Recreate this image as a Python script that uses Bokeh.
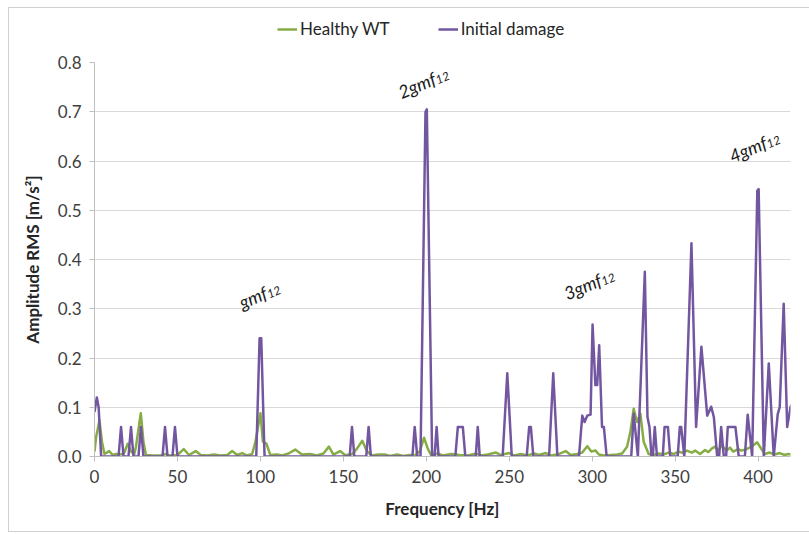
import math
from bokeh.plotting import figure
from bokeh.layouts import column
from bokeh.models import Range1d, FixedTicker, Legend, LegendItem, NumeralTickFormatter, ColumnDataSource
from bokeh.core.properties import value
from bokeh.embed import file_html
from bokeh.resources import INLINE

# ---- data ----
damage_freq = [0, 1.4, 2.5, 4, 14.5, 16, 17.5, 20.5, 22, 23.5, 26.5, 28, 29.5, 41, 42.5, 44, 47, 48.5, 50,
               97.5, 99.5, 100.5, 102.5, 153.8, 155.2, 156.6, 163.8, 165.2, 166.6, 191.6, 193, 194.5,
               196.5, 199.5, 200.3, 203.5, 205, 206.2, 207.4, 217.5, 219, 222, 223.5, 229.8, 231, 232.2,
               246, 248.8, 251.5, 260.5, 262, 263, 264.5, 274, 276.5, 279, 292, 294, 295.4, 297, 299,
               300.2, 301.9, 303, 304.2, 305.9, 307, 308.7, 323.5, 325, 327.5, 331.7, 333.3, 334.5, 335.7,
               336.5, 337.7, 339, 342.5, 343.6, 345.6, 347, 351.5, 352.8, 353.6, 355.5, 359.8, 362.6,
               365.8, 369.3, 371.7, 373.3, 375.3, 376.5, 377.7, 379.3, 380.7, 381.7, 386.3, 388.3, 392,
               393.7, 396.4, 399.5, 400.3, 403.4, 406.4, 409.4, 411.8, 413, 415.4, 417.5, 419.5, 420]
damage_amp = [0.09, 0.12, 0.10, 0, 0, 0.06, 0, 0, 0.06, 0, 0, 0.06, 0, 0, 0.06, 0, 0, 0.06, 0,
              0, 0.24, 0.24, 0, 0, 0.06, 0, 0, 0.06, 0, 0, 0.06, 0,
              0, 0.70, 0.705, 0, 0, 0.06, 0, 0, 0.06, 0.06, 0, 0, 0.06, 0,
              0, 0.169, 0, 0, 0.06, 0.06, 0, 0, 0.169, 0, 0, 0.083, 0.07, 0.083, 0.085,
              0.268, 0.145, 0.145, 0.226, 0.06, 0.06, 0, 0, 0.087, 0, 0.375, 0.08, 0.06, 0,
              0, 0.06, 0, 0, 0.06, 0.06, 0, 0, 0.06, 0.06, 0, 0.433, 0.06,
              0.223, 0.083, 0.101, 0.08, 0, 0, 0.06, 0, 0, 0.06, 0.06, 0, 0,
              0.085, 0, 0.54, 0.543, 0, 0.189, 0, 0.086, 0.1, 0.31, 0.06, 0.1, 0.105]

healthy_freq = [0, 1, 3, 4.5, 6, 8.8, 11, 13, 16, 18, 20, 22, 24, 25, 27.9, 29.5, 31, 35, 40, 43, 45, 50,
                53.8, 57, 61, 64, 68, 72, 76, 80, 83, 86, 89, 92, 95, 97, 100, 101.5, 103.6, 106, 110,
                113, 117, 121, 125, 130, 134, 138, 141.3, 144, 148, 151, 155, 158, 161.4, 164, 167, 171,
                175, 178, 182.5, 186, 190, 193, 196, 198.6, 201, 203, 207, 210, 215, 220, 225, 230, 233,
                237, 242, 245, 250, 253, 257, 261, 265, 268, 272, 275, 279, 284, 287, 291, 294, 297,
                299.5, 302, 304, 307, 311, 315, 318, 321, 323, 325, 327, 329, 331, 334, 337, 340, 343,
                346, 349, 352, 355, 357, 360, 362, 365, 368, 370, 372, 374, 376, 378, 381, 383, 385,
                388, 390, 393, 396, 399.4, 402, 404, 407, 410, 413, 416, 418, 420]
healthy_amp = [0.01, 0.04, 0.073, 0.03, 0.005, 0.011, 0.003, 0.005, 0.004, 0.008, 0.026, 0.01, 0.005, 0.02,
               0.088, 0.03, 0.003, 0.002, 0.002, 0.005, 0.002, 0.003,
               0.015, 0.003, 0.011, 0.003, 0.002, 0.004, 0.002, 0.003, 0.011, 0.003, 0.007, 0.002, 0.005,
               0.03, 0.088, 0.03, 0.026, 0.003, 0.004,
               0.002, 0.006, 0.014, 0.004, 0.005, 0.002, 0.006, 0.02, 0.004, 0.011, 0.003, 0.004, 0.015,
               0.032, 0.012, 0.002, 0.004,
               0.004, 0.001, 0.004, 0.001, 0.003, 0.002, 0.01, 0.038, 0.015, 0.002, 0.006, 0.002, 0.005,
               0.003, 0.002, 0.006, 0.002,
               0.004, 0.008, 0.003, 0.007, 0.002, 0.005, 0.002, 0.006, 0.003, 0.007, 0.002, 0.004, 0.011,
               0.003, 0.005, 0.008, 0.021,
               0.01, 0.012, 0.004, 0.002, 0.003, 0.004, 0.006, 0.02, 0.05, 0.097, 0.07, 0.087, 0.03,
               0.005, 0.003, 0.006, 0.004,
               0.008, 0.005, 0.01, 0.007, 0.012, 0.008, 0.012, 0.005, 0.013, 0.009, 0.016, 0.02, 0.012,
               0.022, 0.012, 0.018, 0.01,
               0.015, 0.012, 0.015, 0.02, 0.029, 0.015, 0.005, 0.008, 0.004, 0.007, 0.003, 0.005, 0.004]

x_ticks = [0, 50, 100, 150, 200, 250, 300, 350, 400]
y_ticks = [0.0, 0.1, 0.2, 0.3, 0.4, 0.5, 0.6, 0.7, 0.8]
series_names = ["Healthy WT", "Initial damage"]

# harmonic labels: main text, subscript, centre of the whole label (data coords), width of main part (px)
ann_main = ["gmf", "2gmf", "3gmf", "4gmf"]
ann_sub = ["12", "12", "12", "12"]
ann_x = [99.6, 198.5, 298.4, 398.0]
ann_y = [0.329, 0.760, 0.351, 0.630]
ann_main_w = [27, 37, 37, 37]

GREEN = "#86AD45"
PURPLE = "#7356A0"
FONT = "Lato"

X_MAX = 419.5
W = 800
LEG_H = 37
H = 486
BL, BR, BT, BB = 85, 19, 17, 75
FW, FH = W - BL - BR, H - BT - BB
px_x = X_MAX / FW          # data units per pixel (x)
px_y = 0.8 / FH            # data units per pixel (y)
ANG = 0.40

# ---------- legend strip ----------
pl = figure(width=W, height=LEG_H, output_backend="svg", toolbar_location=None,
            x_range=Range1d(0, 1), y_range=Range1d(0, 1),
            min_border_left=BL, min_border_right=BR, min_border_top=0, min_border_bottom=0)
pl.xaxis.visible = False
pl.yaxis.visible = False
pl.grid.grid_line_color = None
pl.outline_line_color = None
pl.border_fill_color = "white"
# swatch renderers: drawn outside the (0..1) view, only used for the legend glyphs
lh = pl.line([5, 6], [5, 6], line_color=GREEN, line_width=2.5)
ld = pl.line([5, 6], [5, 6], line_color=PURPLE, line_width=2.5)
legend = Legend(items=[LegendItem(label=series_names[0], renderers=[lh]),
                       LegendItem(label=series_names[1], renderers=[ld])],
                orientation="horizontal", location=(183, 6))
legend.label_text_font = FONT
legend.label_text_font_size = "17px"
legend.label_text_color = "#262626"
legend.border_line_color = None
legend.background_fill_alpha = 0
legend.glyph_width = 20
legend.glyph_height = 20
legend.spacing = 48
legend.padding = 0
legend.margin = 0
legend.label_standoff = 3
pl.add_layout(legend, "center")

# ---------- main chart ----------
p = figure(width=W, height=H, output_backend="svg", toolbar_location=None,
           x_range=Range1d(0, X_MAX), y_range=Range1d(0, 0.8),
           min_border_left=BL, min_border_right=BR, min_border_top=BT, min_border_bottom=BB)
p.outline_line_color = None
p.background_fill_color = "white"
p.border_fill_color = "white"

p.xgrid.grid_line_color = None
p.ygrid.grid_line_color = "#D9D9D9"
p.ygrid.grid_line_width = 1

p.xaxis.ticker = FixedTicker(ticks=x_ticks)
p.yaxis.ticker = FixedTicker(ticks=y_ticks)
p.yaxis.formatter = NumeralTickFormatter(format="0.0")

for ax in (p.xaxis, p.yaxis):
    ax.axis_line_color = "#BFBFBF"
    ax.major_tick_line_color = "#BFBFBF"
    ax.minor_tick_line_color = None
    ax.major_tick_in = 0
    ax.major_tick_out = 5
    ax.major_label_text_font = FONT
    ax.major_label_text_font_size = "17px"
    ax.major_label_text_color = "#404040"
    ax.axis_label_text_font = FONT
    ax.axis_label_text_font_size = "17px"
    ax.axis_label_text_font_style = "bold"
    ax.axis_label_text_color = "#262626"

p.xaxis.axis_label = "Frequency [Hz]"
p.yaxis.axis_label = "Amplitude RMS [m/s\u00b2]"
p.xaxis.major_label_standoff = 8
p.xaxis.axis_label_standoff = 12
p.yaxis.major_label_standoff = 8
p.yaxis.axis_label_standoff = 12

p.line(healthy_freq, healthy_amp, line_color=GREEN, line_width=2.5, line_join="round")
p.line(damage_freq, damage_amp, line_color=PURPLE, line_width=2.5, line_join="round")

# label placement (screen-space offsets converted to data units)
c, s = math.cos(ANG), math.sin(ANG)
main_x, main_y, sub_x, sub_y = [], [], [], []
for cx, cy, wm in zip(ann_x, ann_y, ann_main_w):
    total = wm + 15
    a_main = -total / 2 + wm / 2
    a_sub = -total / 2 + wm + 1 + 7
    main_x.append(cx + a_main * c * px_x)
    main_y.append(cy + a_main * s * px_y)
    drop = 3.5
    sub_x.append(cx + a_sub * c * px_x + drop * s * px_x)
    sub_y.append(cy + a_sub * s * px_y - drop * c * px_y)

src_main = ColumnDataSource(dict(x=main_x, y=main_y, t=ann_main))
src_sub = ColumnDataSource(dict(x=sub_x, y=sub_y, t=ann_sub))
p.text(x="x", y="y", text="t", source=src_main, angle=ANG, text_align="center", text_baseline="middle",
       text_font=value(FONT), text_font_size="18px", text_font_style="italic", text_color="#1a1a1a")
p.text(x="x", y="y", text="t", source=src_sub, angle=ANG, text_align="center", text_baseline="middle",
       text_font=value(FONT), text_font_size="12px", text_font_style="italic", text_color="#1a1a1a")

layout = column(pl, p, spacing=0)
layout.styles = {"margin-left": "8px", "margin-top": "7px", "border": "1px solid #D0D0D0"}

open("out.html", "w").write(file_html(layout, INLINE))
